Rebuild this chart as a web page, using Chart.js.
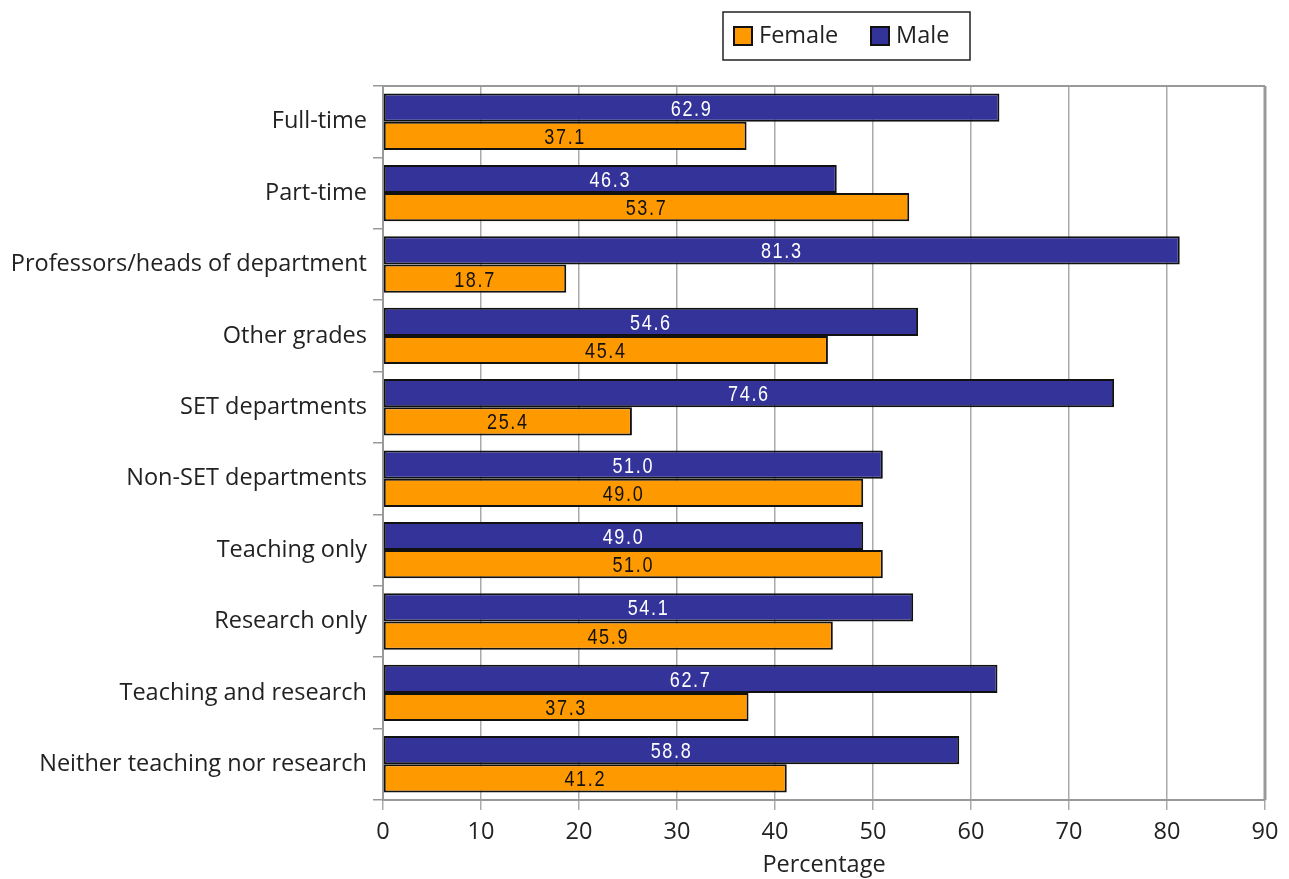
<!DOCTYPE html>
<html>
<head>
<meta charset="utf-8">
<script src="https://cdn.jsdelivr.net/npm/chart.js@4.4.1/dist/chart.umd.min.js"></script>
<style>
  html, body { margin: 0; padding: 0; background: #fff; }
  #wrap { width: 1289px; height: 879px; }
</style>
</head>
<body>
<div id="wrap"><canvas id="staffChart"></canvas></div>
<script>
var categories = [
  "Full-time",
  "Part-time",
  "Professors/heads of department",
  "Other grades",
  "SET departments",
  "Non-SET departments",
  "Teaching only",
  "Research only",
  "Teaching and research",
  "Neither teaching nor research"
];
var male = [62.9, 46.3, 81.3, 54.6, 74.6, 51.0, 49.0, 54.1, 62.7, 58.8];
var female = [37.1, 53.7, 18.7, 45.4, 25.4, 49.0, 51.0, 45.9, 37.3, 41.2];
var xTicks = [0, 10, 20, 30, 40, 50, 60, 70, 80, 90];

var MALE_COLOR = "#333399";
var FEMALE_COLOR = "#ff9900";
var FONT = "'Open Sans', 'Noto Sans', sans-serif";

// value labels written inside each bar (narrowed Liberation Sans)
var barLabels = {
  id: "barLabels",
  afterDatasetsDraw: function(chart) {
    var ctx = chart.ctx;
    chart.data.datasets.forEach(function(ds, di) {
      var meta = chart.getDatasetMeta(di);
      meta.data.forEach(function(bar, i) {
        var x = (bar.base + bar.x) / 2;
        ctx.save();
        ctx.font = "22px 'Liberation Sans', Arial, sans-serif";
        ctx.letterSpacing = "2px";
        ctx.textAlign = "center";
        ctx.textBaseline = "middle";
        ctx.fillStyle = ds.labelColor;
        ctx.translate(x, bar.y + 2);
        ctx.scale(0.82, 1);
        ctx.fillText(ds.data[i].toFixed(1), 0, 0);
        ctx.restore();
      });
    });
  }
};

// frame on top/right of the plot and the boxed legend
var frameAndLegend = {
  id: "frameAndLegend",
  afterDraw: function(chart) {
    var ctx = chart.ctx, a = chart.chartArea;
    ctx.save();
    ctx.strokeStyle = "#999";
    ctx.lineWidth = 2;
    ctx.beginPath();
    ctx.moveTo(a.left, a.top);
    ctx.lineTo(a.right, a.top);
    ctx.stroke();
    ctx.lineWidth = 3;
    ctx.beginPath();
    ctx.moveTo(a.right, a.top);
    ctx.lineTo(a.right, a.bottom);
    ctx.stroke();

    // legend box
    var bx = 723, by = 12, bw = 247, bh = 48;
    ctx.fillStyle = "#fff";
    ctx.fillRect(bx, by, bw, bh);
    ctx.strokeStyle = "#222";
    ctx.lineWidth = 1.5;
    ctx.strokeRect(bx, by, bw, bh);
    var items = [
      { text: chart.data.datasets[1].label, color: chart.data.datasets[1].backgroundColor, x: 734 },
      { text: chart.data.datasets[0].label, color: chart.data.datasets[0].backgroundColor, x: 871 }
    ];
    ctx.font = "23.5px " + FONT;
    ctx.textBaseline = "middle";
    ctx.textAlign = "left";
    items.forEach(function(it) {
      ctx.fillStyle = it.color;
      ctx.fillRect(it.x, 27, 18, 18);
      ctx.strokeStyle = "#111";
      ctx.lineWidth = 2;
      ctx.strokeRect(it.x, 27, 18, 18);
      ctx.fillStyle = "#222";
      ctx.fillText(it.text, it.x + 25, 36);
    });
    ctx.restore();
  }
};

var ctx = document.getElementById("staffChart");
var chart = new Chart(ctx, {
  type: "bar",
  data: {
    labels: categories,
    datasets: [
      {
        label: "Male",
        data: male,
        backgroundColor: MALE_COLOR,
        borderColor: "#111",
        borderWidth: 2,
        borderSkipped: false,
        labelColor: "#fff"
      },
      {
        label: "Female",
        data: female,
        backgroundColor: FEMALE_COLOR,
        borderColor: "#111",
        borderWidth: 2,
        borderSkipped: false,
        labelColor: "#111"
      }
    ]
  },
  options: {
    indexAxis: "y",
    responsive: true,
    maintainAspectRatio: false,
    animation: false,
    categoryPercentage: 0.79,
    barPercentage: 1.0,
    layout: { padding: { left: 0, top: 86, right: 24, bottom: 0 } },
    plugins: {
      legend: { display: false },
      tooltip: { enabled: false }
    },
    scales: {
      x: {
        min: 0,
        max: 90,
        afterBuildTicks: function(scale) {
          scale.ticks = xTicks.map(function(v) { return { value: v }; });
        },
        afterFit: function(scale) { scale.height = 79; },
        grid: {
          color: "#aaa",
          lineWidth: 1.5,
          tickLength: 10
        },
        border: { color: "#999", width: 2 },
        ticks: {
          color: "#222",
          font: { family: FONT, size: 23.5 },
          padding: 8,
          maxRotation: 0
        },
        title: {
          display: true,
          text: "Percentage",
          color: "#222",
          font: { family: FONT, size: 23.5 },
          padding: { top: 0, bottom: 0 }
        }
      },
      y: {
        afterFit: function(scale) { scale.width = 383; },
        grid: {
          offset: true,
          drawOnChartArea: false,
          color: "#999",
          lineWidth: 1.5,
          tickLength: 10
        },
        border: { color: "#999", width: 2 },
        ticks: {
          color: "#222",
          font: { family: FONT, size: 23.5 },
          padding: 6
        }
      }
    }
  },
  plugins: [barLabels, frameAndLegend]
});
</script>
</body>
</html>
